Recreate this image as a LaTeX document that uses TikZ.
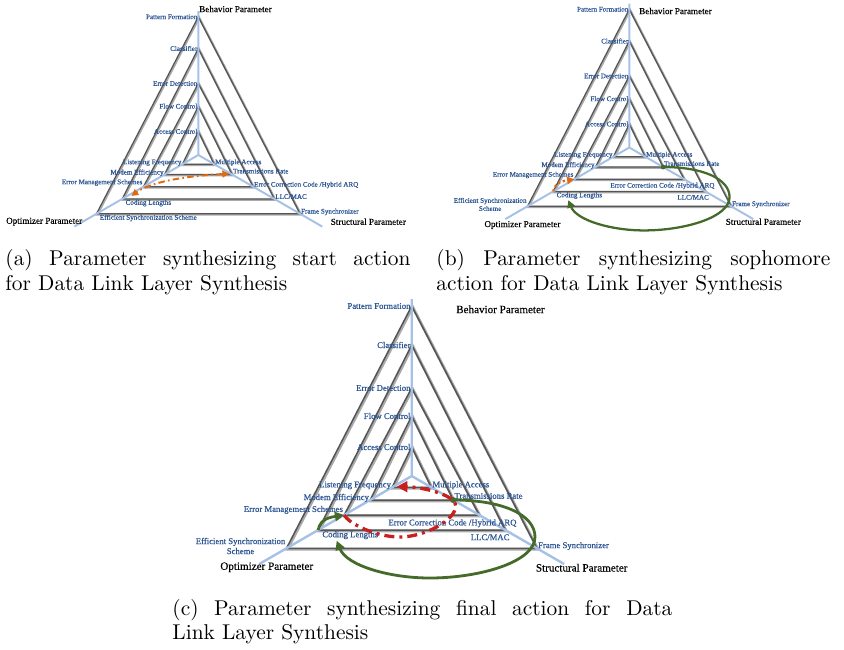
\documentclass[tikz,border=0pt]{standalone}
\usepackage{fontspec}
\usetikzlibrary{arrows.meta}
\newfontfamily\lblfont[FakeBold=0.6]{Liberation Serif}
\newfontfamily\parfont[FakeBold=0.3]{Liberation Serif}

\definecolor{lblblue}{HTML}{2C5592}
\definecolor{axisblue}{HTML}{A6C1E6}
\definecolor{tridark}{HTML}{555555}
\definecolor{trishade}{HTML}{AAAAAA}
\definecolor{orng}{HTML}{E06A12}
\definecolor{grn}{HTML}{456B2B}
\definecolor{redarrow}{HTML}{C8201E}

\tikzset{
  vlabel/.style={text=lblblue, font=\lblfont\fontsize{8.7}{10}\selectfont, inner sep=1pt},
  plabelsmall/.style={font=\parfont\fontsize{9.1}{10}\selectfont, inner sep=0pt},
  plabelbig/.style={font=\parfont\fontsize{11.1}{12}\selectfont, inner sep=0pt},
  axisline/.style={draw=axisblue, line width=2.4pt},
  triline/.style={draw=tridark, line width=1.5pt},
  trishadow/.style={draw=trishade, line width=2.8pt},
  captext/.style={inner sep=0pt, scale=2.14, font=\fontsize{10}{12}\selectfont},
  orangedashdot/.style={draw=orng, line width=2.4pt,
    dash pattern=on 8pt off 4pt on 2pt off 4pt,
    {Triangle[length=0pt 3.5, width=0pt 3.5]}-{Triangle[length=0pt 3.5, width=0pt 3.5]}},
  orangedots/.style={draw=orng, line width=2.8pt, dash pattern=on 2.8pt off 3.2pt,
    -{Triangle[length=0pt 3.2, width=0pt 3.2]}},
  greenloop/.style={draw=grn, line width=2.8pt,
    -{Triangle[length=0pt 3.3, width=0pt 3.3]}},
  redloop/.style={draw=redarrow, line width=3.3pt,
    dash pattern=on 10pt off 5pt on 3pt off 5pt,
    -{Triangle[length=0pt 3.2, width=0pt 3.2]}},
  % the nested triangle network; #1=1 selects the compact label layout
  pics/trinet/.style={code={
    \foreach \k/\h/\d in {1/29/11.3, 2/60/24, 3/88/39, 4/131/54, 5/170/72.3}{
      \draw[trishadow] (1,{-\h+1}) -- ({-1.732*\d+1},{\d+1}) -- ({1.732*\d+1},{\d+1}) -- cycle;
    }
    \foreach \k/\h/\d in {1/29/11.3, 2/60/24, 3/88/39, 4/131/54, 5/170/72.3}{
      \coordinate (-T\k) at (0,-\h);
      \coordinate (-L\k) at ({-1.732*\d},\d);
      \coordinate (-R\k) at ({1.732*\d},\d);
      \draw[triline] (-T\k) -- (-L\k) -- (-R\k) -- cycle;
    }
    \coordinate (-C) at (0,0);
    \coordinate (-top) at (0,-177);
    \coordinate (-lend) at ({-1.732*88},88);
    \coordinate (-rend) at ({1.732*88},88);
    \draw[axisline] (-top) -- (-C) -- (-lend);
    \draw[axisline] (-C) -- (-rend);
    \node[vlabel, anchor=east] (-pf) at (-T5) {Pattern Formation};
    \node[vlabel, anchor=east] (-cf) at (-T4) {Classifier};
    \node[vlabel, anchor=east] (-ed) at (-T3) {Error Detection};
    \node[vlabel, anchor=east] (-fc) at (-T2) {Flow Control};
    \node[vlabel, anchor=east] (-ac) at (-T1) {Access Control};
    \node[vlabel, anchor=base east] (-lf) at (-L1) {Listening Frequency};
    \node[vlabel, anchor=base east] (-me) at (-L2) {Modem Efficiency};
    \node[vlabel, anchor=south east] (-em) at (-L3) {Error Management Schemes};
    \node[vlabel, anchor=north west] (-cl) at ({-1.732*54+3},54) {Coding Lengths};
    \node[vlabel, anchor=base west] (-ma) at (-R1) {Multiple Access};
    \node[vlabel, anchor=south west] (-tr) at (-R2) {Transmissions Rate};
    \node[vlabel, anchor=west] (-fs) at ({1.732*72.3},70) {Frame Synchronizer};
    \ifnum#1=1
      \node[vlabel, anchor=north west] (-es) at ({-1.732*72.3+3},72.3) {Efficient Synchronization Scheme};
      \node[vlabel, anchor=base west] (-ec) at (-R3) {Error Correction Code /Hybrid ARQ};
      \node[vlabel, anchor=base west] (-ll) at (-R4) {LLC/MAC};
    \else
      \node[vlabel, anchor=east, align=center] (-es) at ({-1.732*72.3},70) {Efficient Synchronization\\Scheme};
      \node[vlabel, anchor=east] (-ec) at (106,47.3) {Error Correction Code /Hybrid ARQ};
      \node[vlabel, anchor=east] (-ll) at (99,61.3) {LLC/MAC};
    \fi
  }}
}

\begin{document}
\begin{tikzpicture}[x=1pt, y=-1pt]
\useasboundingbox (0,0) rectangle (844,649);

% ---------- panel (a): start action ----------
\begin{scope}[transform canvas={shift={(198.3,155)}, scale=0.813}]
  \pic (a) at (0,0) {trinet=1};
  \coordinate (a-otip) at (-82.3,50.4);
  \coordinate (a-ostart) at (38,23);
  \draw[orangedashdot] (a-ostart) .. controls (-20,26) and (-60,34) .. (a-otip);
\end{scope}
\node[plabelsmall, anchor=west] (a-bp) at (199,9) {Behavior Parameter};
\node[plabelsmall] (a-op) at (44.2,221.7) {Optimizer Parameter};
\node[plabelsmall] (a-sp) at (368.3,221.7) {Structural Parameter};

% ---------- panel (b): sophomore action ----------
\begin{scope}[transform canvas={shift={(629.3,147.5)}, scale=0.813}]
  \pic (b) at (0,0) {trinet=2};
  \coordinate (b-gE) at (123.3,61);
  \coordinate (b-gB) at (18,102);
  \coordinate (b-gA) at (-75,64.7);
  \draw[greenloop] (b-R2) .. controls +(50,0) and +(0,-22) .. (b-gE)
    .. controls +(0,25) and +(50,0) .. (b-gB)
    .. controls +(-40,0) and +(10,25) .. (b-gA);
  \fill[grn] (b-R2) circle (3);
  \draw[orangedots] (b-L4) .. controls +(2,-12) and +(-12,2) .. (b-L3);
\end{scope}
\node[plabelsmall, anchor=west] (b-bp) at (639,11) {Behavior Parameter};
\node[plabelsmall] (b-op) at (522.5,225) {Optimizer Parameter};
\node[plabelsmall] (b-sp) at (763.3,221.7) {Structural Parameter};

% ---------- panel (c): final action ----------
\begin{scope}[transform canvas={shift={(411.7,476)}}]
  \pic (c) at (0,0) {trinet=2};
  \coordinate (c-gE) at (123.3,61);
  \coordinate (c-gB) at (18,102);
  \coordinate (c-gA) at (-75,64.7);
  \coordinate (c-rB) at (-12,61);
  \coordinate (c-rR) at (44,30);
  \coordinate (c-rtip) at (-15,10.7);
  \draw[greenloop] (c-R2) .. controls +(50,0) and +(0,-22) .. (c-gE)
    .. controls +(0,25) and +(50,0) .. (c-gB)
    .. controls +(-40,0) and +(10,25) .. (c-gA);
  \fill[grn] (c-R2) circle (3);
  \draw[greenloop] (c-L4) .. controls +(2,-12) and +(-12,2) .. (c-L3);
  \draw[redloop] (c-L3) .. controls +(6,10) and +(-22,0) .. (c-rB)
    .. controls +(25,0) and +(0,14) .. (c-rR)
    .. controls +(0,-12) and +(22,0) .. (c-rtip);
\end{scope}
\node[plabelbig, anchor=west] (c-bp) at (456,309.3) {Behavior Parameter};
\node[plabelbig] (c-op) at (266.7,567.3) {Optimizer Parameter};
\node[plabelbig] (c-sp) at (581.7,567.7) {Structural Parameter};

% ---------- captions ----------
\node[captext, anchor=base west] (capa1) at (5,265)
  {\makebox[189.25pt][s]{(a) Parameter synthesizing start action}};
\node[captext, anchor=base west] (capa2) at (5,290) {for Data Link Layer Synthesis};
\node[captext, anchor=base west] (capb1) at (436,265)
  {\makebox[184.1pt][s]{(b) Parameter synthesizing sophomore}};
\node[captext, anchor=base west] (capb2) at (436,290) {action for Data Link Layer Synthesis};
\node[captext, anchor=base west] (capc1) at (172,615)
  {\makebox[233.6pt][s]{(c) Parameter synthesizing final action for Data}};
\node[captext, anchor=base west] (capc2) at (172,639) {Link Layer Synthesis};
\end{tikzpicture}
\end{document}
